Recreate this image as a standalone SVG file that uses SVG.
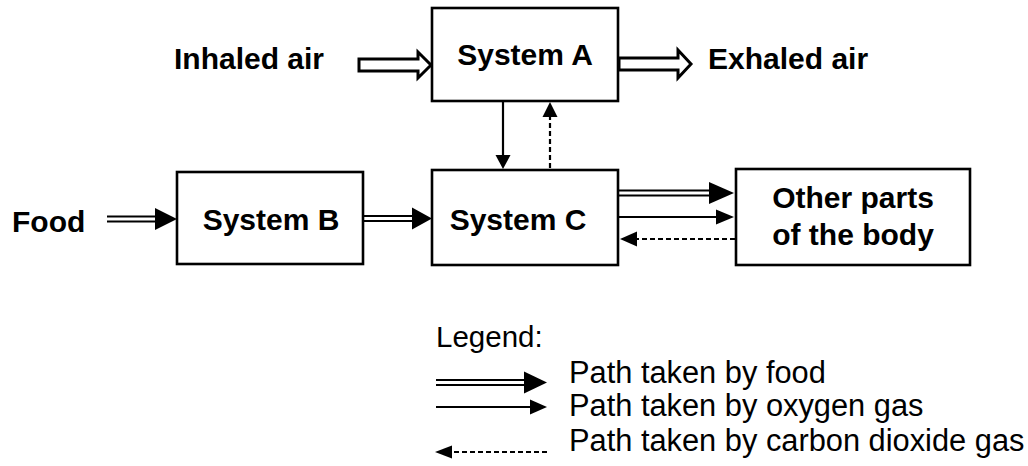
<svg xmlns="http://www.w3.org/2000/svg" width="1028" height="466" viewBox="0 0 1028 466">
<style>
.box{fill:#fff;stroke:#000;stroke-width:2.6}
.lbl{font-family:"Liberation Sans",Arial,sans-serif;font-weight:bold;font-size:30px;fill:#000}
.leg{font-family:"Liberation Sans",Arial,sans-serif;font-size:30.8px;fill:#000}
.ln{stroke:#000;stroke-width:2.2;fill:none}
.dbl{stroke:#000;stroke-width:1.9;fill:none}
.dash{stroke:#000;stroke-width:2.2;fill:none;stroke-dasharray:5 3}
.head{fill:#000;stroke:none}
.hollow{fill:#fff;stroke:#000;stroke-width:3;stroke-linejoin:miter}
</style>
<rect width="1028" height="466" fill="#fff"/>
<g id="inhaled-label"><text class="lbl" x="174" y="69">Inhaled air</text></g>
<g id="exhaled-label"><text class="lbl" x="708" y="69">Exhaled air</text></g>
<g id="food-label"><text class="lbl" x="12" y="232">Food</text></g>
<g id="system-a"><rect class="box" x="432" y="8" width="186" height="93"/><text class="lbl" x="525" y="65" text-anchor="middle">System A</text></g>
<g id="system-b"><rect class="box" x="177" y="172" width="186" height="92"/><text class="lbl" x="271" y="230" text-anchor="middle">System B</text></g>
<g id="system-c"><rect class="box" x="432" y="170" width="186" height="95"/><text class="lbl" x="518" y="230" text-anchor="middle">System C</text></g>
<g id="other-parts"><rect class="box" x="736" y="169" width="234" height="96"/><text class="lbl" x="853" y="208" text-anchor="middle">Other parts</text><text class="lbl" x="853" y="245" text-anchor="middle">of the body</text></g>
<g id="connectors">
  <polygon class="hollow" points="359,59 418,59 418,52 431,65 418,78 418,71 359,71"/>
  <polygon class="hollow" points="619,58 678,58 678,50 691,64 678,78 678,70 619,70"/>
  <line class="dbl" x1="107" y1="216.5" x2="158" y2="216.5"/>
  <line class="dbl" x1="107" y1="221.5" x2="158" y2="221.5"/>
  <polygon class="head" points="155,208 177,219 155,230"/>
  <line class="dbl" x1="364" y1="216" x2="415" y2="216"/>
  <line class="dbl" x1="364" y1="221" x2="415" y2="221"/>
  <polygon class="head" points="412,207.5 432,218.5 412,229.5"/>
  <line class="ln" x1="503" y1="102" x2="503" y2="158"/>
  <polygon class="head" points="495.5,155 510.5,155 503,169"/>
  <line class="dash" x1="550" y1="168" x2="550" y2="115"/>
  <polygon class="head" points="542.5,117 557.5,117 550,102"/>
  <line class="dbl" x1="619" y1="190.5" x2="712" y2="190.5"/>
  <line class="dbl" x1="619" y1="195.5" x2="712" y2="195.5"/>
  <polygon class="head" points="709,182 734,193 709,204"/>
  <line class="ln" x1="619" y1="217" x2="718" y2="217"/>
  <polygon class="head" points="716,209.5 734,217 716,224.5"/>
  <line class="dash" x1="735" y1="239" x2="633" y2="239"/>
  <polygon class="head" points="637,231.5 620,239 637,246.5"/>
</g>
<g id="legend">
  <text class="leg" x="436" y="347" style="font-size:29.5px">Legend:</text>
  <line class="dbl" x1="436" y1="380" x2="527" y2="380"/>
  <line class="dbl" x1="436" y1="385" x2="527" y2="385"/>
  <polygon class="head" points="524,371.5 547,382.5 524,393.5"/>
  <line class="ln" x1="436" y1="407" x2="532" y2="407"/>
  <polygon class="head" points="530,399.5 547,407 530,414.5"/>
  <line class="dash" x1="547" y1="452" x2="449" y2="452"/>
  <polygon class="head" points="452,445.5 435,452 452,458.5"/>
  <text class="leg" x="569" y="383">Path taken by food</text>
  <text class="leg" x="569" y="416">Path taken by oxygen gas</text>
  <text class="leg" x="569" y="451">Path taken by carbon dioxide gas</text>
</g>
</svg>
